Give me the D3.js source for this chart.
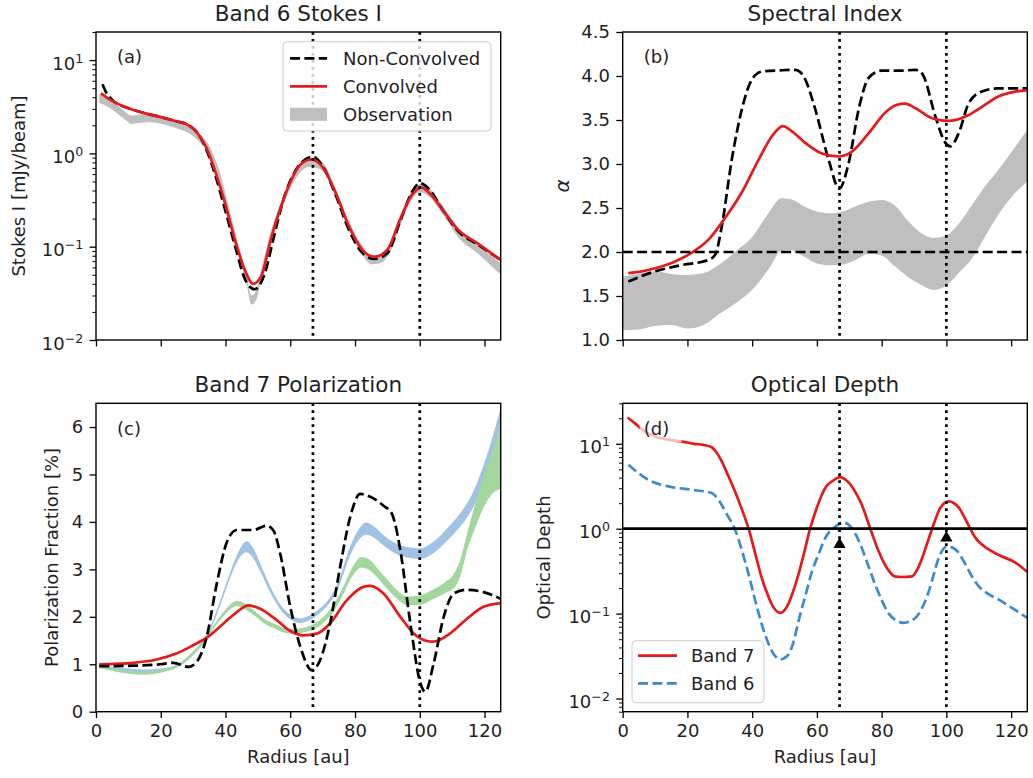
<!DOCTYPE html>
<html><head><meta charset="utf-8">
<script src="https://cdn.jsdelivr.net/npm/d3@7"></script>
<style>body{margin:0;background:#fff}svg{display:block}</style>
</head><body><svg id="c" width="1033" height="778"></svg>
<script>
// ---------------- DATA ----------------
const xTicks = [0, 20, 40, 60, 80, 100, 120];
const ringR = [67, 100];
const titles = ["Band 6 Stokes I", "Spectral Index", "Band 7 Polarization", "Optical Depth"];
const panelLabels = ["(a)", "(b)", "(c)", "(d)"];

// (a) Band 6 Stokes I [mJy/beam]
const aConvR = [1.5,5,10,15,20,25,28,31,34,37,40,43,46,48.5,51,54,57,60,63,66.5,70,74,78,82,86,90,94,97.5,100.5,103.5,107,112,118,125];
const aConv  = [4.4,3.65,3.05,2.7,2.45,2.2,2.05,1.7,1.17,0.62,0.28,0.115,0.056,0.040,0.048,0.12,0.26,0.49,0.75,0.86,0.71,0.38,0.17,0.095,0.078,0.093,0.2,0.355,0.43,0.36,0.25,0.15,0.108,0.072];
const aNonR  = [2,3,5,10,15,20,25,28,31,34,37,40,43,46,49,52,55,58,61,64,67,70,74,78,82,86,90,94,97.5,100,103,107,112,118,125];
const aNon   = [5.5,4.6,3.75,3.05,2.7,2.45,2.2,2.05,1.72,1.12,0.56,0.24,0.1,0.045,0.035,0.05,0.13,0.33,0.6,0.83,0.92,0.73,0.36,0.155,0.088,0.074,0.085,0.19,0.38,0.48,0.41,0.25,0.145,0.105,0.072];
const aObsR  = [1,3,5,7,9,11,13,16,20,25,29,32,35,38,41,44,46.5,48,49.5,51,54,58,62,66,70,74,78,82,85,88,91,94,97,100,103,107,112,118,125];
const aObsLo = [3.5,3.25,2.95,2.6,2.3,2.07,2.1,2.15,2.08,1.85,1.62,1.32,0.98,0.55,0.215,0.085,0.04,0.024,0.027,0.045,0.116,0.29,0.56,0.72,0.65,0.34,0.152,0.085,0.065,0.067,0.09,0.17,0.3,0.38,0.34,0.225,0.125,0.084,0.05];
const aObsHi = [4.3,3.95,3.65,3.2,2.8,2.55,2.6,2.65,2.55,2.27,2.0,1.62,1.2,0.67,0.27,0.105,0.05,0.03,0.034,0.056,0.145,0.355,0.69,0.89,0.8,0.42,0.19,0.106,0.08,0.083,0.111,0.21,0.37,0.47,0.42,0.277,0.156,0.106,0.066];

// (b) Spectral index
const bConvR = [1.75,6,10,16,21,26.5,31.5,37,42,46,49.5,52.3,56.4,61.5,66.7,70.8,76,81,84.5,87.3,90.4,95.6,100.7,105.9,111,116.2,121,125];
const bConv  = [1.76,1.78,1.815,1.89,1.985,2.14,2.38,2.69,3.05,3.31,3.43,3.37,3.24,3.12,3.085,3.14,3.35,3.58,3.67,3.685,3.635,3.52,3.49,3.54,3.65,3.77,3.82,3.84];
const bNonR  = [1.75,10,18,26.5,28.6,30.6,33.7,36.8,39.9,43,49,53.3,55,56.4,59.5,63.6,66.9,69.8,72.9,76,80,86,90.4,92,93,96.6,99.7,101.2,103.8,106.9,111,116,125];
const bNon   = [1.665,1.78,1.85,1.91,1.97,2.29,3.05,3.62,3.96,4.05,4.065,4.07,4.04,3.96,3.62,3.05,2.72,3.01,3.62,3.98,4.06,4.06,4.07,4.05,3.995,3.54,3.24,3.2,3.35,3.69,3.825,3.86,3.86];
const bObsR  = [0,5,10,15,20,25,30,35,40,45,49,52,56,60,64,68,72,76,80,84,88,92,96,100,104,108,112,116,120,125];
const bObsHi = [1.72,1.75,1.78,1.75,1.74,1.76,1.86,2.01,2.17,2.44,2.61,2.60,2.52,2.46,2.44,2.46,2.52,2.57,2.59,2.53,2.36,2.22,2.16,2.19,2.33,2.54,2.75,2.93,3.13,3.39];
const bObsLo = [1.11,1.12,1.16,1.17,1.13,1.17,1.30,1.42,1.57,1.8,2.01,2.02,1.95,1.87,1.85,1.86,1.91,1.98,1.96,1.84,1.72,1.63,1.57,1.62,1.77,1.93,2.18,2.42,2.62,2.80];
const bRef = 2.0;

// (c) Band 7 polarization fraction [%]
const cConvR = [1,6,11.5,18.8,25,30,34.2,39.4,43.5,47.1,50.7,55.8,60,64,68.2,72.3,77.5,82.6,84.7,88.8,94,98.1,102.2,103.8,105.3,109.4,114.6,119.7,125];
const cConv  = [1.0,1.01,1.03,1.10,1.23,1.40,1.56,1.86,2.10,2.24,2.17,1.93,1.70,1.61,1.645,1.86,2.35,2.63,2.65,2.49,2.0,1.65,1.49,1.475,1.49,1.65,1.96,2.21,2.29];
const cNonR  = [1,11.5,19.8,23.9,28.5,31.1,34.2,37.3,40.4,43.5,48.6,52.8,54.8,56.9,60,63.1,66.7,69.2,72.3,75.4,78.5,81.6,84.7,88.8,91.4,94,97.1,100.2,101.7,104.3,107.4,110.5,114.6,119.7,125];
const cNon   = [0.96,0.97,1.0,1.03,0.945,1.05,1.58,2.70,3.57,3.83,3.83,3.92,3.82,3.33,2.21,1.37,0.875,1.085,1.86,3.05,4.10,4.59,4.53,4.34,4.17,3.40,1.86,0.6,0.42,1.02,2.0,2.49,2.57,2.52,2.38];
const cBlueR  = [1,5,10,15,20,25,30,34,38,42,44.5,46.5,48.5,51,54,57,60,63,66,69,72,75,78,81,83.5,86,89,92,96,100,104,108,112,116,120,125];
const cBlueLo = [0.93,0.89,0.85,0.82,0.85,0.93,1.19,1.52,2.17,2.92,3.26,3.36,3.24,2.92,2.49,2.15,1.95,1.87,1.93,2.07,2.28,2.63,3.21,3.61,3.73,3.66,3.49,3.35,3.25,3.22,3.33,3.57,3.86,4.24,4.85,5.75];
const cBlueHi = [0.99,0.95,0.91,0.89,0.91,0.99,1.27,1.60,2.27,3.04,3.44,3.60,3.46,3.08,2.61,2.25,2.05,1.97,2.03,2.17,2.38,2.77,3.39,3.83,3.99,3.90,3.71,3.57,3.47,3.44,3.57,3.83,4.14,4.56,5.25,6.40];
const cGreenR  = [1,5,10,15,20,25,30,34,38,41,43.5,46,49,52,55,58,61,64,67,70,73,76,79,82,84.5,87,90,93,96,100,104,108,110.5,112.5,114.6,117,119.7,122.5,125];
const cGreenLo = [0.92,0.86,0.80,0.78,0.82,0.93,1.20,1.52,1.90,2.13,2.22,2.16,2.02,1.86,1.76,1.67,1.64,1.67,1.72,1.86,2.08,2.42,2.84,3.04,2.98,2.82,2.58,2.38,2.25,2.25,2.37,2.50,2.60,2.85,3.40,3.85,4.30,4.60,4.70];
const cGreenHi = [0.97,0.92,0.86,0.84,0.88,0.99,1.27,1.58,1.98,2.23,2.34,2.28,2.12,1.96,1.86,1.77,1.74,1.77,1.84,1.98,2.22,2.58,3.02,3.26,3.20,3.02,2.78,2.56,2.43,2.45,2.57,2.74,2.90,3.20,3.75,4.35,4.95,5.50,6.05];

// (d) Optical depth
const dB7R = [1.5,3.8,7,10,14,18,22,25,27.5,29,30.6,32.5,34.7,36.8,38.9,41,43,45,46.5,48.7,51,53,54.3,56,57.9,60,61.5,63,64.6,67.2,69,70.8,72.5,73.9,76.5,79.1,82.2,84,86.3,89.4,91,92.5,94,95.6,98.1,100.7,103.8,105.5,107.4,109,111,116.2,121.3,125];
const dB7  = [20.4,17.4,13.8,12.2,11.2,10.7,10.0,9.7,9.1,7.9,6.2,4.3,2.75,1.7,1.0,0.5,0.26,0.16,0.12,0.102,0.126,0.2,0.29,0.51,1.0,1.78,2.5,3.2,3.6,4.05,3.75,3.15,2.45,1.9,1.0,0.54,0.32,0.275,0.27,0.275,0.33,0.45,0.66,1.0,1.75,2.1,1.78,1.38,1.0,0.78,0.65,0.49,0.40,0.31];
const dB6R = [1.75,4,7.9,14.1,21.3,27.5,29,30.6,32.5,34.7,36.8,38.9,41,43,44.5,46.1,48.7,51.2,53,54.3,56.5,58.5,60.5,62.6,65.7,68.2,70.8,73.9,76,78,80,82.2,84.5,86.8,90.4,92.5,94.5,96,97.6,100.2,102.8,105.9,108,110,113,116.2,121,125];
const dB6  = [5.66,4.8,3.77,3.15,2.88,2.63,2.35,1.9,1.41,0.98,0.56,0.29,0.14,0.074,0.05,0.036,0.029,0.033,0.05,0.081,0.166,0.316,0.5,0.78,1.06,1.19,1.02,0.59,0.355,0.22,0.145,0.1,0.083,0.078,0.089,0.117,0.18,0.28,0.45,0.62,0.57,0.38,0.27,0.21,0.17,0.146,0.112,0.089];
const dRef = 1.0;
const dMarkR = [67, 100];
const dMarkTau = [0.65, 0.78];

// ---------------- STYLE ----------------
const FONT = "DejaVu Sans";
const TXT = "#1f1f1f";
const RED = "#e41a1c";
const BLUE = "#3f8bc9";
const BLUEBAND = "#a0c3e3";
const GREENBAND = "#a3d79e";
const GRAY = "#bfbfbf";
const FS = 18, TFS = 21.5;
const DASH = "10,4.4";
const DOT = "2.7,4.3";

const svg = d3.select("#c");
const P = {
  a: {x0: 96, x1: 500.7, y0: 32, y1: 340},
  b: {x0: 622.7, x1: 1027.3, y0: 32, y1: 340},
  c: {x0: 96, x1: 500.7, y0: 403.3, y1: 711.7},
  d: {x0: 622.7, x1: 1027.3, y0: 403.3, y1: 711.7}
};
const zip = (R, V) => R.map((r, i) => ({r, v: V[i]}));
const zip3 = (R, L, H) => R.map((r, i) => ({r, lo: L[i], hi: H[i]}));

function setup(key, yScale) {
  const p = P[key];
  const x = d3.scaleLinear().domain([0, 125]).range([p.x0, p.x1]);
  const y = yScale.range([p.y1, p.y0]);
  const clipId = "clip-" + key;
  svg.append("clipPath").attr("id", clipId).append("rect")
    .attr("x", p.x0).attr("y", p.y0).attr("width", p.x1 - p.x0).attr("height", p.y1 - p.y0);
  const g = svg.append("g").attr("clip-path", `url(#${clipId})`);
  return {p, x, y, g};
}
function lineGen(x, y) { return d3.line().x(d => x(d.r)).y(d => y(d.v)).curve(d3.curveMonotoneX); }
function areaGen(x, y) { return d3.area().x(d => x(d.r)).y0(d => y(d.lo)).y1(d => y(d.hi)).curve(d3.curveMonotoneX); }

function styleAxis(ax) {
  ax.select(".domain").remove();
  ax.selectAll(".tick line").attr("stroke", "#000").attr("stroke-width", 1.3);
  ax.selectAll(".tick text").attr("font-size", FS).attr("font-family", FONT).attr("fill", TXT);
}
function axes(P0, key, opts) {
  const {p, x, y} = P0;
  const fr = svg.append("g");
  const xa = fr.append("g").attr("transform", `translate(0,${p.y1})`)
    .call(d3.axisBottom(x).tickValues(xTicks).tickSize(6.4).tickPadding(6.4)
      .tickFormat(opts.xLabels ? d3.format("d") : () => ""));
  styleAxis(xa);
  if (opts.log) {
    const ya = fr.append("g").attr("transform", `translate(${p.x0},0)`)
      .call(d3.axisLeft(y).tickValues(opts.majors).tickSize(6.4).tickPadding(6.4).tickFormat(() => ""));
    styleAxis(ya);
    ya.selectAll(".tick text").each(function(d) {
      const e = Math.round(Math.log10(d));
      const t = d3.select(this).attr("dy", "0.5em");
      t.append("tspan").text("10");
      t.append("tspan").attr("dy", "-0.55em").attr("font-size", FS * 0.7).text(e < 0 ? "\u2212" + (-e) : String(e));
    });
    const minors = y.ticks().filter(v => Math.abs(Math.log10(v) - Math.round(Math.log10(v))) > 1e-6);
    const ym = fr.append("g").attr("transform", `translate(${p.x0},0)`)
      .call(d3.axisLeft(y).tickValues(minors).tickSize(3.6).tickFormat(() => ""));
    ym.select(".domain").remove();
    ym.selectAll(".tick line").attr("stroke", "#000").attr("stroke-width", 1.0);
  } else {
    const ya = fr.append("g").attr("transform", `translate(${p.x0},0)`)
      .call(d3.axisLeft(y).tickValues(opts.yTicks).tickSize(6.4).tickPadding(6.4).tickFormat(opts.yFmt));
    styleAxis(ya);
  }
  fr.append("rect").attr("x", p.x0).attr("y", p.y0).attr("width", p.x1 - p.x0).attr("height", p.y1 - p.y0)
    .attr("fill", "none").attr("stroke", "#000").attr("stroke-width", 1.4);
}
function vlines(P0) {
  const {p, x, g} = P0;
  g.selectAll(null).data(ringR).enter().append("line")
    .attr("x1", d => x(d)).attr("x2", d => x(d)).attr("y1", p.y0).attr("y2", p.y1)
    .attr("stroke", "#000").attr("stroke-width", 2.7).attr("stroke-dasharray", DOT);
}
function titleText(P0, i) {
  const {p} = P0;
  svg.append("text").attr("x", (p.x0 + p.x1) / 2).attr("y", p.y0 - 11).attr("text-anchor", "middle")
    .attr("font-family", FONT).attr("font-size", TFS).attr("fill", TXT).text(titles[i]);
}
function panelLabel(P0, i, box) {
  const {p} = P0;
  const tx = p.x0 + 21, ty = p.y0 + 25;
  if (box) svg.append("rect").attr("x", tx - 4).attr("y", ty - 14).attr("width", 42).attr("height", 28)
    .attr("fill", "#fff").attr("fill-opacity", 0.7);
  svg.append("text").attr("x", tx).attr("y", ty).attr("dy", "0.35em")
    .attr("font-family", FONT).attr("font-size", FS).attr("fill", TXT).text(panelLabels[i]);
}
function ylab(x, y, t, italic) {
  svg.append("text").attr("transform", `translate(${x},${y}) rotate(-90)`).attr("text-anchor", "middle")
    .attr("font-family", FONT).attr("font-size", italic ? FS + 2 : FS).attr("font-style", italic ? "italic" : null)
    .attr("fill", TXT).text(t);
}

// ---------- Panel (a) ----------
{
  const A = setup("a", d3.scaleLog().domain([0.01, 20]));
  const {g, x, y} = A;
  g.append("path").datum(zip3(aObsR, aObsLo, aObsHi)).attr("d", areaGen(x, y)).attr("fill", GRAY);
  g.append("path").datum(zip(aNonR, aNon)).attr("d", lineGen(x, y)).attr("fill", "none")
    .attr("stroke", "#000").attr("stroke-width", 2.7).attr("stroke-dasharray", DASH);
  g.append("path").datum(zip(aConvR, aConv)).attr("d", lineGen(x, y)).attr("fill", "none")
    .attr("stroke", RED).attr("stroke-width", 2.7);
  vlines(A);
  axes(A, "a", {log: true, majors: [0.01, 0.1, 1, 10], xLabels: false});
  titleText(A, 0);
  panelLabel(A, 0, false);
  ylab(25, 186, "Stokes I [mJy/beam]");
  // legend
  const L = svg.append("g");
  L.append("rect").attr("x", 283).attr("y", 41.7).attr("width", 208).attr("height", 89.3).attr("rx", 4)
    .attr("fill", "#fff").attr("fill-opacity", 0.8).attr("stroke", "#cccccc").attr("stroke-width", 1);
  const ent = [
    {t: "Non-Convolved", type: "dash"},
    {t: "Convolved", type: "line"},
    {t: "Observation", type: "patch"}
  ];
  ent.forEach((e, i) => {
    const cy = 58.3 + i * 28;
    if (e.type === "patch") {
      L.append("rect").attr("x", 290).attr("y", cy - 6.5).attr("width", 37).attr("height", 13).attr("fill", GRAY);
    } else {
      L.append("line").attr("x1", 290).attr("x2", 327).attr("y1", cy).attr("y2", cy)
        .attr("stroke", e.type === "dash" ? "#000" : RED).attr("stroke-width", 2.7)
        .attr("stroke-dasharray", e.type === "dash" ? DASH : null);
    }
    L.append("text").attr("x", 343).attr("y", cy).attr("dy", "0.35em").attr("font-family", FONT)
      .attr("font-size", FS).attr("fill", TXT).text(e.t);
  });
}

// ---------- Panel (b) ----------
{
  const B = setup("b", d3.scaleLinear().domain([1, 4.5]));
  const {g, x, y, p} = B;
  g.append("path").datum(zip3(bObsR, bObsLo, bObsHi)).attr("d", areaGen(x, y)).attr("fill", GRAY);
  g.append("path").datum(zip(bNonR, bNon)).attr("d", lineGen(x, y)).attr("fill", "none")
    .attr("stroke", "#000").attr("stroke-width", 2.7).attr("stroke-dasharray", DASH);
  g.append("path").datum(zip(bConvR, bConv)).attr("d", lineGen(x, y)).attr("fill", "none")
    .attr("stroke", RED).attr("stroke-width", 2.7);
  g.append("line").attr("x1", p.x0).attr("x2", p.x1).attr("y1", y(bRef)).attr("y2", y(bRef))
    .attr("stroke", "#000").attr("stroke-width", 2.7).attr("stroke-dasharray", DASH);
  vlines(B);
  axes(B, "b", {log: false, yTicks: [1, 1.5, 2, 2.5, 3, 3.5, 4, 4.5], yFmt: d3.format(".1f"), xLabels: false});
  titleText(B, 1);
  panelLabel(B, 1, false);
  ylab(569, 186, "\u03b1", true);
}

// ---------- Panel (c) ----------
{
  const C = setup("c", d3.scaleLinear().domain([0, 6.5]));
  const {g, x, y} = C;
  g.append("path").datum(zip3(cBlueR, cBlueLo, cBlueHi)).attr("d", areaGen(x, y)).attr("fill", BLUEBAND);
  g.append("path").datum(zip3(cGreenR, cGreenLo, cGreenHi)).attr("d", areaGen(x, y)).attr("fill", GREENBAND);
  g.append("path").datum(zip(cConvR, cConv)).attr("d", lineGen(x, y)).attr("fill", "none")
    .attr("stroke", RED).attr("stroke-width", 2.7);
  g.append("path").datum(zip(cNonR, cNon)).attr("d", lineGen(x, y)).attr("fill", "none")
    .attr("stroke", "#000").attr("stroke-width", 2.7).attr("stroke-dasharray", DASH);
  vlines(C);
  axes(C, "c", {log: false, yTicks: [0, 1, 2, 3, 4, 5, 6], yFmt: d3.format("d"), xLabels: true});
  titleText(C, 2);
  panelLabel(C, 2, false);
  ylab(58, 557.5, "Polarization Fraction [%]");
  svg.append("text").attr("x", (C.p.x0 + C.p.x1) / 2).attr("y", 763).attr("text-anchor", "middle")
    .attr("font-family", FONT).attr("font-size", FS).attr("fill", TXT).text("Radius [au]");
}

// ---------- Panel (d) ----------
{
  const D = setup("d", d3.scaleLog().domain([0.007, 30]));
  const {g, x, y, p} = D;
  g.append("path").datum(zip(dB7R, dB7)).attr("d", lineGen(x, y)).attr("fill", "none")
    .attr("stroke", RED).attr("stroke-width", 2.7);
  g.append("path").datum(zip(dB6R, dB6)).attr("d", lineGen(x, y)).attr("fill", "none")
    .attr("stroke", BLUE).attr("stroke-width", 2.7).attr("stroke-dasharray", DASH);
  g.append("line").attr("x1", p.x0).attr("x2", p.x1).attr("y1", y(dRef)).attr("y2", y(dRef))
    .attr("stroke", "#000").attr("stroke-width", 2.7);
  vlines(D);
  g.selectAll(null).data(dMarkR.map((r, i) => ({r, v: dMarkTau[i]}))).enter().append("path")
    .attr("d", d3.symbol(d3.symbolTriangle, 64)())
    .attr("transform", d => `translate(${x(d.r)},${y(d.v)})`).attr("fill", "#000");
  axes(D, "d", {log: true, majors: [0.01, 0.1, 1, 10], xLabels: true});
  titleText(D, 3);
  panelLabel(D, 3, true);
  ylab(550, 557.5, "Optical Depth");
  svg.append("text").attr("x", (p.x0 + p.x1) / 2).attr("y", 763).attr("text-anchor", "middle")
    .attr("font-family", FONT).attr("font-size", FS).attr("fill", TXT).text("Radius [au]");
  const L = svg.append("g");
  L.append("rect").attr("x", 632).attr("y", 640.7).attr("width", 132).attr("height", 62).attr("rx", 4)
    .attr("fill", "#fff").attr("fill-opacity", 0.8).attr("stroke", "#cccccc").attr("stroke-width", 1);
  [{t: "Band 7", c: RED, d: null}, {t: "Band 6", c: BLUE, d: DASH}].forEach((e, i) => {
    const cy = 655.7 + i * 27.6;
    L.append("line").attr("x1", 638).attr("x2", 677).attr("y1", cy).attr("y2", cy)
      .attr("stroke", e.c).attr("stroke-width", 2.7).attr("stroke-dasharray", e.d);
    L.append("text").attr("x", 691).attr("y", cy).attr("dy", "0.35em").attr("font-family", FONT)
      .attr("font-size", FS).attr("fill", TXT).text(e.t);
  });
}
</script></body></html>
